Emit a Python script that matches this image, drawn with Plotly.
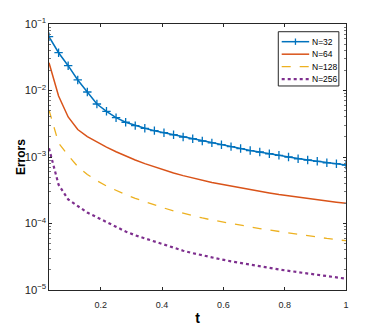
import plotly.graph_objects as go

# time grid (t = k/32) and error values
t = [k / 32 for k in range(1, 33)]

err_n32 = [0.0644, 0.0370, 0.0236, 0.0144, 0.0095, 0.00627, 0.00487, 0.0039,
           0.00333, 0.00296, 0.0027, 0.00249, 0.00232, 0.00216, 0.0020, 0.00188,
           0.00174, 0.00163, 0.00153, 0.00143, 0.00134, 0.00125, 0.00119, 0.00112,
           0.00106, 0.00100, 0.000942, 0.000901, 0.000861, 0.00082, 0.000793, 0.000758]

err_n64 = [0.0262, 0.00826, 0.0040, 0.00259, 0.00203, 0.00168, 0.00141, 0.0012,
           0.00103, 0.000902, 0.000795, 0.000708, 0.000635, 0.000575, 0.000525, 0.000483,
           0.000447, 0.000415, 0.000388, 0.000364, 0.000342, 0.000322, 0.000304, 0.000288,
           0.000273, 0.00026, 0.000248, 0.000237, 0.000227, 0.000218, 0.000209, 0.000201]

err_n128 = [0.00509, 0.001625, 0.001054, 0.00072, 0.000546, 0.00044, 0.000366, 0.000313,
            0.000272, 0.000239, 0.000212, 0.00019, 0.000171, 0.000155, 0.000142, 0.000131,
            0.000121, 0.000113, 0.000106, 9.95e-5, 9.38e-5, 8.86e-5, 8.4e-5, 7.97e-5,
            7.57e-5, 7.2e-5, 6.85e-5, 6.53e-5, 6.23e-5, 5.96e-5, 5.72e-5, 5.51e-5]

err_n256 = [0.00135, 0.000383, 0.00023, 0.000183, 0.000146, 0.000124, 0.000105, 8.92e-5,
            7.58e-5, 6.65e-5, 5.95e-5, 5.31e-5, 4.75e-5, 4.28e-5, 3.9e-5, 3.58e-5,
            3.31e-5, 3.08e-5, 2.88e-5, 2.7e-5, 2.54e-5, 2.4e-5, 2.27e-5, 2.15e-5,
            2.04e-5, 1.94e-5, 1.85e-5, 1.76e-5, 1.68e-5, 1.61e-5, 1.54e-5, 1.48e-5]

x_ticks = [0.2, 0.4, 0.6, 0.8, 1.0]
x_ticktext = ["0.2", "0.4", "0.6", "0.8", "1"]

AXIS = "#262626"
FONT = "Liberation Sans, Arial, sans-serif"

series = [
    ("N=32", err_n32, "#0072BD", "solid", 1.5),
    ("N=64", err_n64, "#D95319", "solid", 1.5),
    ("N=128", err_n128, "#EDB120", "dash", 1.3),
    ("N=256", err_n256, "#7E2F8E", "dot", 2.2),
]

fig = go.Figure()
for name, vals, color, dash, width in series:
    fig.add_trace(go.Scatter(
        x=t, y=vals, name=name,
        mode="lines+markers" if name == "N=32" else "lines",
        line=dict(color=color, width=width, dash=dash),
        marker=dict(symbol="cross-thin", size=6, line=dict(color=color, width=1.3)),
    ))

# compact MATLAB-style legend box (plotly's own legend rows are too tall)
shapes = [dict(type="rect", xref="paper", yref="paper",
               x0=0.772, x1=0.976, y0=0.767, y1=0.971,
               line=dict(color=AXIS, width=1), fillcolor="white", layer="above")]
annotations = []
for i, (name, _, color, dash, width) in enumerate(series):
    yy = 0.9335 - i * 0.047
    shapes.append(dict(type="line", xref="paper", yref="paper",
                       x0=0.7835, x1=0.876, y0=yy, y1=yy, layer="above",
                       line=dict(color=color, width=width, dash=dash)))
    if name == "N=32":
        shapes.append(dict(type="line", xref="paper", yref="paper",
                           x0=0.8298, x1=0.8298, y0=yy - 0.012, y1=yy + 0.012,
                           layer="above", line=dict(color=color, width=1.3)))
    annotations.append(dict(text=name, xref="paper", yref="paper", x=0.878, y=yy,
                            xanchor="left", yanchor="middle", showarrow=False,
                            font=dict(size=8.5, color="#000")))

annotations.append(dict(text="<b>Errors</b>", xref="paper", yref="paper",
                        x=-0.094, y=0.5, textangle=-90, showarrow=False,
                        xanchor="center", yanchor="middle",
                        font=dict(size=12, color="#000")))

# page body has an 8px margin, so the figure is a bit smaller than the window
fig.update_layout(
    width=374, height=319,
    margin=dict(l=41, r=36, t=16, b=37),
    plot_bgcolor="white", paper_bgcolor="white",
    font=dict(family=FONT, size=9, color=AXIS),
    showlegend=False,
    shapes=shapes,
    annotations=annotations,
    xaxis=dict(
        range=[1 / 32, 1.0], tickvals=x_ticks, ticktext=x_ticktext,
        showgrid=False, zeroline=False, automargin=False,
        showline=True, linecolor=AXIS, linewidth=1, mirror="allticks",
        ticks="inside", ticklen=3, tickcolor=AXIS, ticklabelstandoff=6,
        title=dict(text="<b>t</b>", font=dict(size=14, color="#000"), standoff=4),
    ),
    yaxis=dict(
        type="log", range=[-5, -1], dtick=1, exponentformat="power",
        showgrid=False, zeroline=False, automargin=False,
        showline=True, linecolor=AXIS, linewidth=1, mirror="allticks",
        ticks="inside", ticklen=3, tickcolor=AXIS,
        minor=dict(ticks="inside", ticklen=2, tickcolor="#777", showgrid=False),
    ),
)

fig.write_html("out.html")
